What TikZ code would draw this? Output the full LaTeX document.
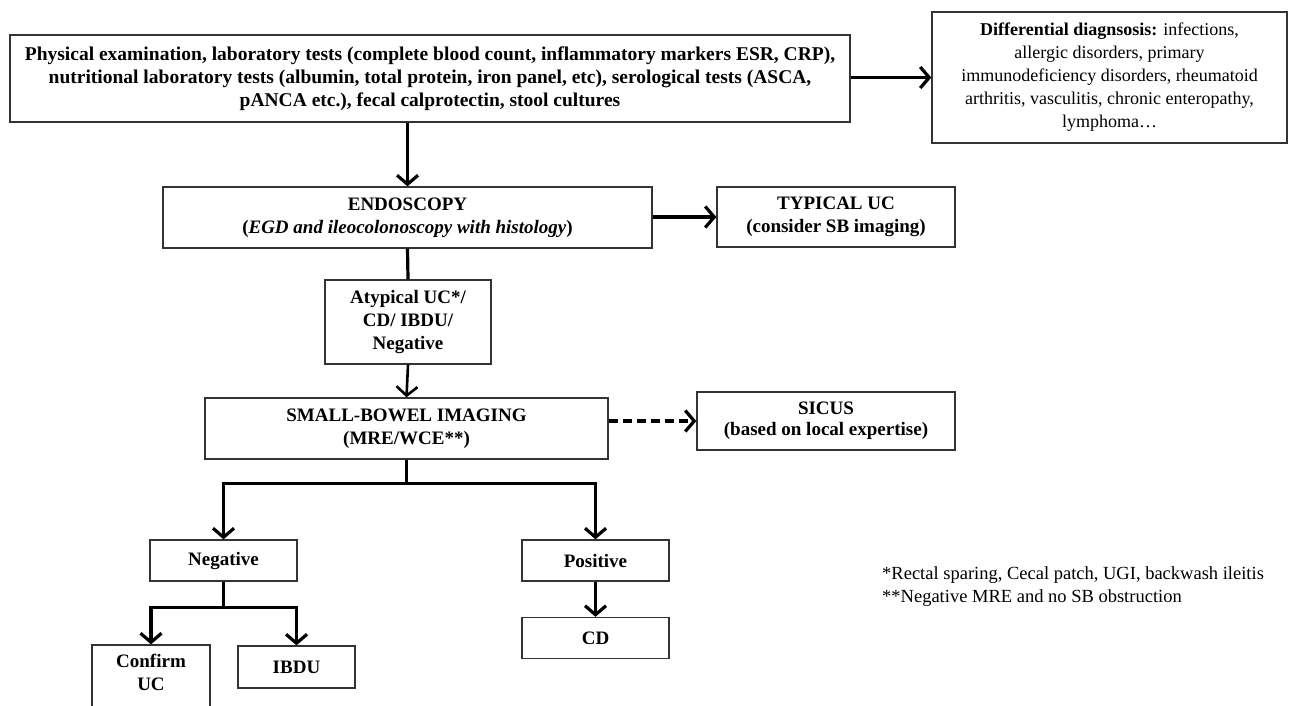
\documentclass[tikz,border=0pt]{standalone}
\usepackage{fontspec}
\setmainfont{Liberation Serif}
\usetikzlibrary{arrows.meta}
\usetikzlibrary{positioning}
\tikzset{>=stealth}
\tikzstyle{flow} = [draw, line width=3.2pt, -{Straight Barb[length=9pt,width=21pt]}]
\tikzstyle{link} = [draw, line width=3.2pt]
\begin{document}
\begin{tikzpicture}[x=1pt, y=-1pt,
		box/.style={draw=black!80, line width=1.3pt, rectangle, fill=white,
			align=center, inner sep=0pt,
			font=\bfseries\fontsize{19}{23}\selectfont},
		note/.style={align=left, inner sep=0pt,
			font=\fontsize{18.5}{23}\selectfont}]
		\path[use as bounding box, clip] (0,0) rectangle (1294,705);
		%% States
		\node [box, minimum width=840pt, minimum height=87pt,
			font=\bfseries\fontsize{19.5}{23}\selectfont] at (430,78.5) (phys)
			{Physical examination, laboratory tests (complete blood count, inflammatory markers ESR, CRP),\\
			nutritional laboratory tests (albumin, total protein, iron panel, etc), serological tests (ASCA,\\
			pANCA etc.), fecal calprotectin, stool cultures};
		\node [box, minimum width=355pt, minimum height=131pt,
			font=\fontsize{18}{23}\selectfont] at (1109.5,77.5) (diff)
			{\textbf{Differential diagnsosis:} infections,\\
			allergic disorders, primary\\
			immunodeficiency disorders, rheumatoid\\
			arthritis, vasculitis, chronic enteropathy,\\
			lymphoma…};
		\node [box, minimum width=489pt, minimum height=61pt] at (407.5,217.5) (endo)
			{ENDOSCOPY\\ (\textit{EGD and ileocolonoscopy with histology})};
		\node [box, minimum width=238pt, minimum height=60pt] at (836,217) (typ)
			{TYPICAL UC\\ (consider SB imaging)};
		\node [box, minimum width=166pt, minimum height=84pt] at (408,322) (atyp)
			{Atypical UC*/\\ CD/ IBDU/\\ Negative};
		\node [box, minimum width=403pt, minimum height=61pt] at (406.5,428.5) (sbi)
			{SMALL-BOWEL IMAGING\\ (MRE/WCE**)};
		\node [box, minimum width=258pt, minimum height=58pt,
			font=\bfseries\fontsize{19}{21}\selectfont] at (826,421) (sicus)
			{SICUS\\ (based on local expertise)};
		\node [box, minimum width=147pt, minimum height=41pt] at (223.5,560.5) (neg) {Negative};
		\node [box, minimum width=147pt, minimum height=41pt] at (595.5,560.5) (pos) {Positive};
		\node [box, minimum width=147pt, minimum height=41pt] at (595.5,638) (cd) {CD};
		\node [box, minimum width=118pt, minimum height=84pt] at (151,687) (conf)
			{Confirm\\ UC\\ \strut};
		\node [box, minimum width=117pt, minimum height=42pt] at (296.5,667) (ibdu) {IBDU};
		\node [note, anchor=north west] at (882,566) (fn)
			{*Rectal sparing, Cecal patch, UGI, backwash ileitis\\
			**Negative MRE and no SB obstruction};
		%% Flows
		\path [flow] (phys.east |- diff.west) -- (diff.west);
		\path [flow] (endo.north |- phys.south) -- (endo.north);
		\path [flow] (endo.east |- typ.west) -- (typ.west);
		\path [link] (endo.south) -- (atyp.north);
		\path [flow, line width=2.6pt] (atyp.south) -- (sbi.north);
		\path [flow, dash pattern=on 9pt off 5pt] (sbi.east |- sicus.west) -- (sicus.west);
		\path [flow] (sbi.south) -- ++(0,24) -| (neg.north);
		\path [flow] (sbi.south) -- ++(0,24) -| (pos.north);
		\path [flow] (pos.south) -- (cd.north);
		\path [flow] (neg.south) -- ++(0,26) -| (conf.north);
		\path [flow] (neg.south) -- ++(0,26) -| (ibdu.north);
	\end{tikzpicture}
\end{document}
